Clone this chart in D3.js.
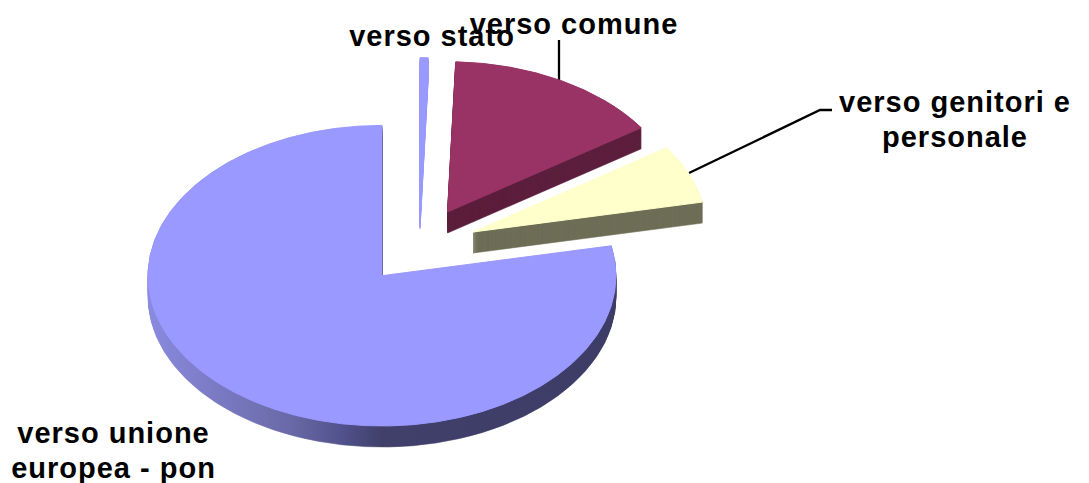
<!DOCTYPE html>
<html><head><meta charset="utf-8">
<script src="https://cdn.jsdelivr.net/npm/d3@7"></script>
<style>html,body{margin:0;padding:0;background:#fff}svg{display:block}
text{font-family:"Liberation Sans",Arial,sans-serif;font-weight:bold;font-size:29px;letter-spacing:1px;fill:#000;text-anchor:middle}</style>
</head><body><svg id="c" width="1089" height="483"></svg>
<script>
// Data, clockwise from twelve o'clock (percent)
const categories = ["verso stato", "verso comune", "verso genitori e personale", "verso unione europea - pon"];
const values = [0.56, 14.97, 6.28, 78.19];
const labelLines = [["verso stato"], ["verso comune"], ["verso genitori e", "personale"], ["verso unione", "europea - pon"]];

// Presentation
const topColors = ["#9999ff", "#993366", "#ffffcc", "#9999ff"];
const wallColors = ["#9999ff", "#5c1f3d", "#6e6e58", "url(#wallGrad)"];
const centers = [[420, 208], [447.5, 212], [473, 232], [382, 275.7]];
const labelPos = [[432, 45.5], [574, 34], [955, 112], [113.5, 443]];
const leaders = [[], [[559, 40], [559, 82]], [[689, 173], [820, 110], [832, 110]], []];
const rx = 234, ry = 150.3, depth = 21, lineGap = 34.5;
const drawOrder = [3, 0, 1, 2];

const svg = d3.select("#c");
const grad = svg.append("defs").append("linearGradient")
  .attr("id", "wallGrad").attr("gradientUnits", "userSpaceOnUse")
  .attr("x1", -rx).attr("x2", rx).attr("y1", 0).attr("y2", 0);
[[0, "#8a8ae0"], [0.1, "#7f7fcc"], [0.3, "#6a6aa8"], [0.42, "#50508a"], [0.5, "#40406a"], [1, "#3c3c66"]]
  .forEach(([o, c]) => grad.append("stop").attr("offset", o).attr("stop-color", c));

const arcs = d3.pie().sort(null).value(d => d)(values);
const arc = d3.arc().innerRadius(0).outerRadius(rx);
const line = d3.line();

svg.append("g").selectAll("path").data(leaders.filter(l => l.length)).join("path")
  .attr("d", line).attr("fill", "none").attr("stroke", "#000").attr("stroke-width", 2.3);

drawOrder.forEach(i => {
  const [cx, cy] = centers[i];
  const g = svg.append("g");
  d3.range(depth, 0, -1).forEach(d => {
    g.append("path").attr("transform", `translate(${cx},${cy + d}) scale(1,${ry / rx})`)
      .attr("d", arc(arcs[i])).attr("fill", wallColors[i])
      .attr("stroke", wallColors[i]).attr("stroke-width", 0.6).attr("vector-effect", "non-scaling-stroke");
  });
  g.append("path").attr("transform", `translate(${cx},${cy}) scale(1,${ry / rx})`)
    .attr("d", arc(arcs[i])).attr("fill", topColors[i])
    .attr("stroke", topColors[i]).attr("stroke-width", 1).attr("vector-effect", "non-scaling-stroke");
});

labelLines.forEach((lines, i) => {
  const t = svg.append("text");
  lines.forEach((s, j) => t.append("tspan").attr("x", labelPos[i][0]).attr("y", labelPos[i][1] + j * lineGap).text(s));
});
</script></body></html>
